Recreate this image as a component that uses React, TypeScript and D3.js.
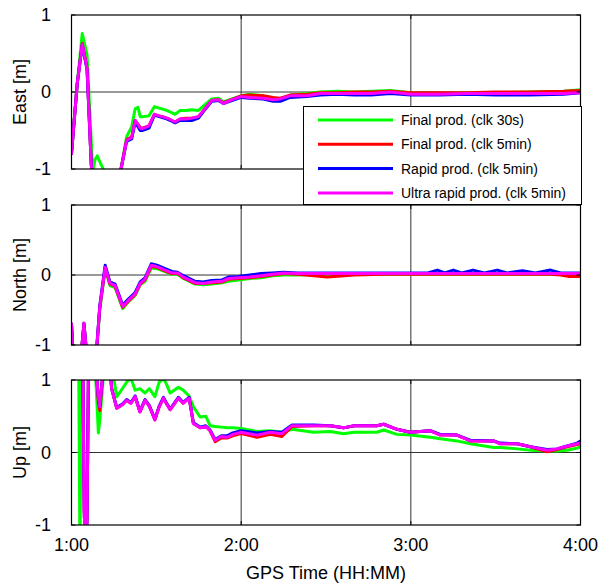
import React from 'react';
import * as d3 from 'd3';

// ---- tick labels / categories ----
const xTicks = [60, 120, 180, 240]; // minutes since 0:00
const xTickLabels = ['1:00', '2:00', '3:00', '4:00'];
const yTicks = [-1, 0, 1];
const yTickLabels = ['-1', '0', '1'];
const seriesNames = [
  'Final prod. (clk 30s)',
  'Final prod. (clk 5min)',
  'Rapid prod. (clk 5min)',
  'Ultra rapid prod. (clk 5min)',
];
const seriesColors = ['#00ff00', '#ff0000', '#0000ff', '#ff00ff'];

// ---- East ----
const eastTime = [60, 62, 63.8, 65.5, 67, 67.5, 68.3, 69.1, 70.3, 71.5, 72.5, 76, 77.5, 79.5, 81.3, 82.5, 83.5, 84.3, 85, 87.4, 89.3, 91, 93, 95, 96.6, 98.4, 100.5, 102.5, 104.9, 106.7, 109.6, 112, 113.7, 116.7, 120, 123, 127.8, 131.3, 133.8, 137.3, 143.3, 148, 154, 160, 166, 172.8, 180, 190, 200, 210, 222, 234, 240];
const eastGreen = [-0.78, 0.10, 0.76, 0.48, -0.65, -1.05, -0.88, -0.83, -0.93, -1.02,
  -1.30, -1.50, -1.00, -0.58, -0.45, -0.22, -0.20, -0.32, -0.32, -0.31,
  -0.19, -0.21, -0.23, -0.26, -0.29, -0.24, -0.24, -0.23, -0.24, -0.18,
  -0.09, -0.08, -0.13, -0.09, -0.05, -0.03, -0.05, -0.08, -0.10, -0.04,
  -0.02, 0.00, 0.01, 0.00, 0.01, 0.02, -0.01, -0.02, -0.01, -0.01,
  0.00, 0.01, 0.03];
const eastRed = [-0.80, 0.10, 0.63, 0.31, -0.95, -1.10, -1.30, -1.50, -1.50, -1.50,
  -1.50, -1.50, -1.00, -0.62, -0.58, -0.37, -0.42, -0.46, -0.47, -0.44,
  -0.29, -0.31, -0.33, -0.36, -0.39, -0.35, -0.34, -0.34, -0.32, -0.24,
  -0.11, -0.10, -0.14, -0.10, -0.05, -0.04, -0.05, -0.07, -0.08, -0.04,
  -0.03, -0.01, -0.01, 0.00, 0.00, 0.01, -0.01, -0.01, -0.01, 0.00,
  0.00, 0.01, 0.02];
const eastBlue = [-0.80, 0.10, 0.61, 0.29, -0.95, -1.10, -1.30, -1.50, -1.50, -1.50,
  -1.50, -1.50, -1.00, -0.64, -0.61, -0.39, -0.45, -0.50, -0.50, -0.47,
  -0.30, -0.32, -0.34, -0.37, -0.40, -0.37, -0.37, -0.37, -0.34, -0.25,
  -0.12, -0.11, -0.15, -0.11, -0.07, -0.08, -0.09, -0.12, -0.12, -0.07,
  -0.06, -0.04, -0.03, -0.04, -0.04, -0.02, -0.04, -0.04, -0.03, -0.04,
  -0.04, -0.03, -0.01];
const eastMagenta = [-0.80, 0.10, 0.62, 0.30, -0.95, -1.10, -1.30, -1.50, -1.50, -1.50,
  -1.50, -1.50, -1.00, -0.63, -0.59, -0.37, -0.42, -0.47, -0.48, -0.44,
  -0.29, -0.31, -0.33, -0.36, -0.39, -0.35, -0.35, -0.34, -0.32, -0.24,
  -0.11, -0.10, -0.15, -0.10, -0.06, -0.07, -0.08, -0.10, -0.09, -0.05,
  -0.05, -0.02, -0.02, -0.02, -0.02, 0.00, -0.03, -0.03, -0.02, -0.02,
  -0.02, -0.02, -0.01];

// ---- North ----
const northTime = [60, 60.5, 61.5, 63.5, 64.4, 65.3, 66, 68.9, 70, 71.9, 73.6, 75.4, 78.1, 80.2, 82.5, 84.3, 86, 88.2, 90.2, 93.1, 95.5, 97.5, 99.6, 103.7, 106.5, 109.6, 113.2, 115.5, 119, 123, 127, 131, 135, 140, 150.4, 160, 170, 180, 186, 189.4, 192, 195, 198, 202, 206, 210.6, 214, 219.5, 224, 229.4, 233, 236, 240];
const northGreen = [-0.72, -1.10, -1.50, -1.10, -0.72, -1.10, -1.50, -1.10, -0.50, 0.08,
  -0.15, -0.18, -0.48, -0.38, -0.29, -0.14, -0.09, 0.10, 0.09, 0.05,
  0.01, 0.01, -0.05, -0.13, -0.14, -0.13, -0.11, -0.09, -0.07, -0.05,
  -0.04, -0.01, 0.00, 0.00, 0.01, 0.01, 0.01, 0.01, 0.01, 0.01,
  0.01, 0.01, 0.01, 0.01, 0.01, 0.01, 0.01, 0.01, 0.01, 0.01,
  0.01, 0.01, 0.01];
const northRed = [-0.70, -1.10, -1.50, -1.10, -0.69, -1.10, -1.50, -1.05, -0.47, 0.10,
  -0.13, -0.16, -0.46, -0.37, -0.28, -0.13, -0.07, 0.12, 0.11, 0.06,
  0.02, 0.02, -0.04, -0.12, -0.12, -0.11, -0.10, -0.06, -0.05, -0.04,
  -0.02, 0.00, 0.02, 0.01, -0.03, 0.00, 0.01, 0.01, 0.01, 0.01,
  0.01, 0.01, 0.01, 0.01, 0.01, 0.01, 0.01, 0.01, 0.01, 0.01,
  0.00, -0.02, -0.02];
const northBlue = [-0.70, -1.10, -1.50, -1.10, -0.69, -1.10, -1.50, -1.05, -0.44, 0.14,
  -0.10, -0.13, -0.43, -0.34, -0.25, -0.10, -0.04, 0.16, 0.14, 0.09,
  0.05, 0.04, -0.01, -0.09, -0.10, -0.08, -0.07, -0.03, -0.02, 0.00,
  0.02, 0.03, 0.04, 0.03, 0.03, 0.03, 0.03, 0.03, 0.03, 0.07,
  0.03, 0.07, 0.03, 0.07, 0.03, 0.07, 0.03, 0.06, 0.03, 0.07,
  0.03, 0.03, 0.03];
const northMagenta = [-0.70, -1.10, -1.50, -1.10, -0.69, -1.10, -1.50, -1.05, -0.46, 0.11,
  -0.12, -0.15, -0.45, -0.36, -0.27, -0.12, -0.06, 0.14, 0.12, 0.07,
  0.03, 0.03, -0.03, -0.11, -0.12, -0.10, -0.09, -0.05, -0.04, -0.03,
  -0.01, 0.01, 0.03, 0.02, 0.02, 0.02, 0.02, 0.02, 0.02, 0.02,
  0.02, 0.02, 0.02, 0.02, 0.02, 0.02, 0.02, 0.02, 0.02, 0.02,
  0.02, 0.02, 0.02];

// ---- Up ----
const upTime = [60, 62.5, 63, 63.5, 64, 64.5, 65, 65.5, 66, 68, 69.5, 70, 71, 72, 73.6, 74.2, 76, 78, 79.5, 81, 82.5, 84.2, 86, 87.5, 89.5, 91, 92.5, 93.5, 94.9, 97.8, 99.5, 101.6, 103.1, 105.5, 107.5, 109, 110.8, 113, 115, 117, 120, 125.6, 130.3, 134.4, 138, 145.6, 151.5, 156.2, 160, 168, 170.4, 175.1, 179.8, 186.9, 190.4, 196.3, 201, 209.3, 211.6, 217.6, 222.3, 228.2, 231.7, 235.3, 238.8, 240];
const upGreen = [1.5, 1.5, -1.5, 1.5, 1.5, 1.5, 1.5, 1.5, 1.5, 1.5,
  0.27, 0.45, 0.90, 1.5, 1.5, 1.2, 0.77, 0.88, 0.97, 1.03,
  0.86, 0.88, 0.82, 0.88, 0.77, 0.97, 1.02, 0.95, 0.82, 0.90,
  0.86, 0.78, 0.63, 0.49, 0.50, 0.37, 0.36, 0.35, 0.34, 0.34,
  0.33, 0.29, 0.30, 0.28, 0.32, 0.28, 0.29, 0.26, 0.28, 0.28,
  0.31, 0.25, 0.24, 0.21, 0.19, 0.16, 0.12, 0.07, 0.07, 0.05,
  0.03, 0.02, 0.02, 0.03, 0.06, 0.08];
const upRed = [1.5, 1.5, 1.5, 1.5, 1.2, -0.8, -1.5, -0.9, 1.2, 1.5,
  0.70, 0.58, 1.05, 1.5, 1.15, 0.88, 0.61, 0.66, 0.72, 0.68,
  0.77, 0.56, 0.72, 0.64, 0.45, 0.63, 0.75, 0.68, 0.59, 0.75,
  0.68, 0.75, 0.40, 0.34, 0.36, 0.30, 0.15, 0.20, 0.20, 0.23,
  0.26, 0.21, 0.25, 0.22, 0.36, 0.37, 0.37, 0.34, 0.37, 0.37,
  0.39, 0.32, 0.28, 0.30, 0.24, 0.24, 0.16, 0.16, 0.12, 0.12,
  0.08, 0.01, 0.04, 0.08, 0.11, 0.12];
const upBlue = [1.5, 1.5, 1.5, 1.5, 1.2, -0.8, -1.5, -0.9, 1.2, 1.5,
  0.75, 0.63, 1.05, 1.5, 1.15, 0.88, 0.62, 0.67, 0.73, 0.69,
  0.78, 0.57, 0.73, 0.65, 0.46, 0.64, 0.76, 0.69, 0.60, 0.76,
  0.69, 0.76, 0.41, 0.35, 0.37, 0.31, 0.18, 0.23, 0.23, 0.27,
  0.30, 0.27, 0.29, 0.28, 0.38, 0.38, 0.37, 0.34, 0.37, 0.37,
  0.39, 0.32, 0.28, 0.30, 0.25, 0.24, 0.17, 0.16, 0.13, 0.12,
  0.08, 0.04, 0.05, 0.09, 0.13, 0.16];
const upMagenta = [1.5, 1.5, 1.5, 1.5, 1.2, -0.8, -1.5, -0.9, 1.2, 1.5,
  0.75, 0.63, 1.05, 1.5, 1.15, 0.88, 0.61, 0.66, 0.72, 0.68,
  0.77, 0.56, 0.72, 0.64, 0.45, 0.63, 0.75, 0.68, 0.59, 0.75,
  0.68, 0.75, 0.40, 0.34, 0.36, 0.30, 0.17, 0.22, 0.21, 0.25,
  0.28, 0.24, 0.28, 0.26, 0.37, 0.37, 0.37, 0.34, 0.37, 0.37,
  0.39, 0.32, 0.28, 0.30, 0.24, 0.24, 0.16, 0.16, 0.12, 0.12,
  0.08, 0.03, 0.05, 0.09, 0.12, 0.13];

const panels = [
  { label: 'East [m]', time: eastTime, series: [eastGreen, eastRed, eastBlue, eastMagenta], top: 15, bottom: 169, legend: true },
  { label: 'North [m]', time: northTime, series: [northGreen, northRed, northBlue, northMagenta], top: 205, bottom: 345, legend: false },
  { label: 'Up [m]', time: upTime, series: [upGreen, upRed, upBlue, upMagenta], top: 380, bottom: 525, legend: false },
];

const W = 601;
const H = 584;
const LEFT = 71.5;
const RIGHT = 580.5;
const FONT = 'Arial, "Liberation Sans", sans-serif';

export default function App() {
  const x = d3.scaleLinear().domain([60, 240]).range([LEFT, RIGHT]);

  return (
    <svg width={W} height={H} style={{ position: 'absolute', left: 0, top: 0, background: '#fff' }} fontFamily={FONT}>
      <rect x={0} y={0} width={W} height={H} fill="#fff" />
      {panels.map((p, pi) => {
        const y = d3.scaleLinear().domain([-1, 1]).range([p.bottom, p.top]);
        const clipId = `clip-${pi}`;
        const midY = (p.top + p.bottom) / 2;
        return (
          <g key={pi}>
            <defs>
              <clipPath id={clipId}>
                <rect x={LEFT} y={p.top} width={RIGHT - LEFT} height={p.bottom - p.top} />
              </clipPath>
            </defs>
            <rect x={LEFT} y={p.top} width={RIGHT - LEFT} height={p.bottom - p.top} fill="#fff" />
            {/* grid */}
            {xTicks.slice(1, -1).map((t) => (
              <line key={`gx${t}`} x1={x(t)} x2={x(t)} y1={p.top} y2={p.bottom} stroke="#333" strokeWidth={1} />
            ))}
            {yTicks.slice(1, -1).map((v) => (
              <line key={`gy${v}`} x1={LEFT} x2={RIGHT} y1={y(v)} y2={y(v)} stroke="#333" strokeWidth={1} />
            ))}
            {/* series */}
            <g clipPath={`url(#${clipId})`}>
              {p.series.map((vals, si) => {
                const line = d3
                  .line<number>()
                  .x((_, i) => x(p.time[i]))
                  .y((d) => y(d));
                return (
                  <path key={si} d={line(vals) || ''} fill="none" stroke={seriesColors[si]} strokeWidth={3} strokeLinejoin="round" strokeLinecap="round" />
                );
              })}
            </g>
            {/* ticks */}
            {xTicks.map((t) => (
              <g key={`tx${t}`}>
                <line x1={x(t)} x2={x(t)} y1={p.bottom} y2={p.bottom - 4} stroke="#000" />
                <line x1={x(t)} x2={x(t)} y1={p.top} y2={p.top + 4} stroke="#000" />
              </g>
            ))}
            {yTicks.map((v) => (
              <g key={`ty${v}`}>
                <line x1={LEFT} x2={LEFT + 4} y1={y(v)} y2={y(v)} stroke="#000" />
                <line x1={RIGHT} x2={RIGHT - 4} y1={y(v)} y2={y(v)} stroke="#000" />
              </g>
            ))}
            <rect x={LEFT} y={p.top} width={RIGHT - LEFT} height={p.bottom - p.top} fill="none" stroke="#000" strokeWidth={1.2} />
            {/* y tick labels */}
            {yTicks.map((v, i) => (
              <text key={`yl${v}`} x={51} y={y(v)} dy="0.35em" textAnchor="end" fontSize={18} fill="#000">
                {yTickLabels[i]}
              </text>
            ))}
            <text transform={`translate(${20},${midY}) rotate(-90)`} textAnchor="middle" dy="0.35em" fontSize={18} fill="#000">
              {p.label}
            </text>
          </g>
        );
      })}
      {/* legend drawn on top */}
      <g>
        <rect x={303.5} y={106.5} width={278} height={98} fill="#fff" stroke="#000" strokeWidth={1} />
        {seriesNames.map((name, i) => {
          const ly = 120 + i * 24.3;
          return (
            <g key={name}>
              <line x1={318} x2={393} y1={ly} y2={ly} stroke={seriesColors[i]} strokeWidth={3} />
              <text x={401} y={ly} dy="0.35em" fontSize={14} fill="#000">
                {name}
              </text>
            </g>
          );
        })}
      </g>
      {/* x tick labels */}
      {xTicks.map((t, i) => (
        <text key={`xl${t}`} x={x(t)} y={551} textAnchor="middle" fontSize={18} fill="#000">
          {xTickLabels[i]}
        </text>
      ))}
      <text x={(LEFT + RIGHT) / 2} y={579} textAnchor="middle" fontSize={18} fill="#000">
        GPS Time (HH:MM)
      </text>
    </svg>
  );
}
